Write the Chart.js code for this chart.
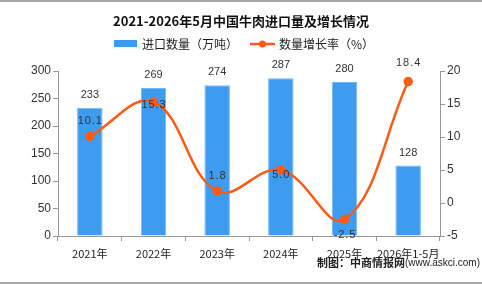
<!DOCTYPE html>
<html lang="zh">
<head>
  <meta charset="UTF-8">
  <title>2021-2026年5月中国牛肉进口量及增长情况</title>
  <script src="https://cdn.jsdelivr.net/npm/chart.js"></script>
  <style>
    html, body { margin: 0; padding: 0; background: #fff; }
    #wrap { width: 482px; height: 284px; position: relative; }
  </style>
</head>
<body>
  <div id="wrap"><canvas id="grafico" width="482" height="284"></canvas></div>
  <script>
    // dados do gráfico
    const categorias = ['2021年', '2022年', '2023年', '2024年', '2025年', '2026年1-5月'];
    const importacao = [233, 269, 274, 287, 280, 128];
    const crescimento = [10.1, 15.3, 1.8, 5.0, -2.5, 18.4];
    const ticksEsq = [0, 50, 100, 150, 200, 250, 300];
    const ticksDir = [-5, 0, 5, 10, 15, 20];

    const AZUL = '#3d9bf0';
    const LARANJA = '#ff5a14';
    const CJK = '"Noto Sans CJK SC", "Noto Sans", sans-serif';
    const NUM = '"Liberation Sans", Arial, sans-serif';

    // deslocamento vertical dos rótulos da linha (px)
    const offLinha = [-15, 3, -15, 5, 15, -19];

    const desenhoExtra = {
      id: 'desenhoExtra',
      afterDraw(chart) {
        const ctx = chart.ctx;
        ctx.save();
        // bordas cinza
        ctx.fillStyle = '#a8a8a8';
        ctx.fillRect(0, 0, 482, 2);
        ctx.fillRect(0, 282, 482, 2);

        // título
        ctx.fillStyle = '#111';
        ctx.font = 'bold 13px ' + CJK;
        ctx.textAlign = 'center';
        ctx.textBaseline = 'middle';
        ctx.fillText('2021-2026年5月中国牛肉进口量及增长情况', 241, 21);

        // legenda
        ctx.fillStyle = AZUL;
        ctx.fillRect(114, 40, 23, 7);
        ctx.font = '12px ' + CJK;
        ctx.textAlign = 'left';
        ctx.fillStyle = '#222';
        ctx.fillText('进口数量（万吨）', 142, 44);
        ctx.strokeStyle = LARANJA;
        ctx.lineWidth = 2.5;
        ctx.beginPath();
        ctx.moveTo(250, 44); ctx.lineTo(275, 44); ctx.stroke();
        ctx.fillStyle = LARANJA;
        ctx.beginPath(); ctx.arc(262.5, 44, 3.5, 0, Math.PI * 2); ctx.fill();
        ctx.fillStyle = '#222';
        ctx.fillText('数量增长率（%）', 279, 44);

        // rótulos das barras
        const mb = chart.getDatasetMeta(0);
        ctx.font = '11px ' + NUM;
        ctx.textAlign = 'center';
        ctx.fillStyle = '#333';
        mb.data.forEach((el, i) => {
          ctx.fillText(String(importacao[i]), el.x, el.y - 13);
        });

        // rótulos da linha
        const ml = chart.getDatasetMeta(1);
        ml.data.forEach((el, i) => {
          ctx.fillText(crescimento[i].toFixed(1).split('').join(String.fromCharCode(8202)), el.x, el.y + offLinha[i]);
        });

        // fonte
        ctx.textAlign = 'right';
        ctx.fillStyle = '#222';
        const src = '(www.askci.com)';
        ctx.font = '10px ' + NUM;
        const w = ctx.measureText(src).width;
        ctx.fillText(src, 480, 263);
        ctx.font = 'bold 11px ' + CJK;
        ctx.fillText('制图：中商情报网', 480 - w, 263);
        ctx.restore();
      }
    };

    new Chart(document.getElementById('grafico').getContext('2d'), {
      data: {
        labels: categorias,
        datasets: [{
          type: 'bar',
          label: '进口数量（万吨）',
          data: importacao,
          backgroundColor: AZUL,
          borderColor: '#72b8f6',
          borderWidth: 1,
          barPercentage: 0.4,
          categoryPercentage: 1,
          yAxisID: 'y',
          order: 2
        }, {
          type: 'line',
          label: '数量增长率（%）',
          data: crescimento,
          borderColor: LARANJA,
          backgroundColor: LARANJA,
          borderWidth: 2.5,
          pointRadius: 3.5,
          pointBackgroundColor: LARANJA,
          tension: 0.4,
          yAxisID: 'y1',
          order: 1
        }]
      },
      options: {
        responsive: false,
        animation: false,
        layout: { padding: { top: 71, bottom: 24, left: 0, right: 0 } },
        plugins: { legend: { display: false }, title: { display: false }, tooltip: { enabled: false } },
        scales: {
          x: {
            offset: true,
            grid: { display: true, offset: true, drawOnChartArea: false, drawTicks: true, tickLength: 5, color: '#999' },
            border: { color: '#999', width: 1 },
            ticks: { color: '#222', font: { family: CJK, size: 11 }, padding: 6, maxRotation: 0, autoSkip: false },
            afterFit(s) { s.height = 24; }
          },
          y: {
            position: 'left',
            min: 0, max: 300,
            afterBuildTicks(s) { s.ticks = ticksEsq.map(v => ({ value: v })); },
            grid: { drawOnChartArea: false, drawTicks: true, tickLength: 5, color: '#999' },
            border: { color: '#999', width: 1 },
            ticks: { color: '#333', font: { family: NUM, size: 12 }, padding: 2 },
            afterFit(s) { s.width = 58; }
          },
          y1: {
            position: 'right',
            min: -5, max: 20,
            afterBuildTicks(s) { s.ticks = ticksDir.map(v => ({ value: v })); },
            grid: { drawOnChartArea: false, drawTicks: true, tickLength: 5, color: '#999' },
            border: { color: '#999', width: 1 },
            ticks: { color: '#333', font: { family: NUM, size: 12 }, padding: 2 },
            afterFit(s) { s.width = 42; }
          }
        }
      },
      plugins: [desenhoExtra]
    });
  </script>
</body>
</html>
